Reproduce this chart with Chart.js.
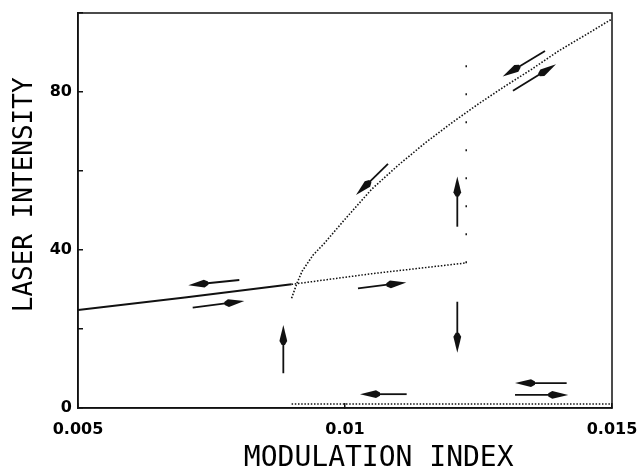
<!DOCTYPE html>
<html>
<head>
<meta charset="utf-8">
<script src="https://cdn.jsdelivr.net/npm/chart.js@4/dist/chart.umd.min.js"></script>
<style>
  body { margin: 0; background: #fff; }
  #wrap { width: 638px; height: 466px; }
</style>
</head>
<body>
<div id="wrap"><canvas id="laserChart" width="638" height="466"></canvas></div>
<script>
// Stable low-intensity branch (solid line)
const lowerX = [0.005, 0.007, 0.009];
const lowerY = [24.8, 28.0, 31.3];

// Unstable continuation of the low branch (dotted)
const middleX = [0.009, 0.0105, 0.01225];
const middleY = [31.3, 34.0, 36.7];

// High-intensity branch (dotted)
const upperX = [0.0090, 0.0091, 0.0092, 0.0094, 0.0096, 0.0100, 0.0105, 0.0110, 0.0115, 0.0120, 0.0125, 0.0130, 0.0135, 0.0140, 0.0145, 0.0150];
const upperY = [27.8, 31.6, 34.7, 38.7, 41.5, 47.8, 55.4, 61.5, 67.1, 72.2, 77.0, 81.5, 85.8, 90.4, 94.4, 98.5];

// Near-zero branch (dotted)
const bottomX = [0.009, 0.015];
const bottomY = [1.0, 1.0];

// Vertical jump marker (sparse dashes)
const jumpX = [0.01227, 0.01227];
const jumpY = [86.8, 33.2];

// Arrows: [tailX, tailY, headX, headY]
const arrows = [
  [0.010805, 61.8, 0.010206, 53.9],
  [0.013745, 90.4, 0.012953, 83.9],
  [0.013146, 80.3, 0.013951, 87.0],
  [0.012103, 45.9, 0.012103, 58.6],
  [0.012103, 26.9, 0.012103, 14.0],
  [0.008021, 32.4, 0.007066, 31.1],
  [0.007148, 25.4, 0.008114, 27.1],
  [0.010243, 30.3, 0.011148, 31.8],
  [0.008845, 8.8, 0.008845, 21.0],
  [0.011155, 3.5, 0.010281, 3.5],
  [0.014151, 6.3, 0.013184, 6.3],
  [0.013184, 3.3, 0.014181, 3.3]
];

// Axis ticks
const xTicks = [0.005, 0.01, 0.015];
const yLabelled = [0, 40, 80];

const toPts = (xs, ys) => xs.map((x, i) => ({ x: x, y: ys[i] }));

// Draws the arrows through the chart scales, plus the top/right frame
const arrowPlugin = {
  id: 'arrows',
  afterDatasetsDraw(chart) {
    const c = chart.ctx;
    const sx = chart.scales.x;
    const sy = chart.scales.y;
    const area = chart.chartArea;

    c.save();
    c.strokeStyle = '#111';
    c.lineWidth = 1.5;
    c.strokeRect(area.left, area.top, area.right - area.left, area.bottom - area.top);

    c.fillStyle = '#111';
    arrows.forEach(a => {
      const x1 = sx.getPixelForValue(a[0]), y1 = sy.getPixelForValue(a[1]);
      const x2 = sx.getPixelForValue(a[2]), y2 = sy.getPixelForValue(a[3]);
      const len = Math.hypot(x2 - x1, y2 - y1);
      const ux = (x2 - x1) / len, uy = (y2 - y1) / len;
      const nx = -uy, ny = ux;
      const L = 20, L1 = 16, w1 = 3.9, w2 = 1.6;

      c.lineWidth = 1.8;
      c.beginPath();
      c.moveTo(x1, y1);
      c.lineTo(x2 - ux * (L - 1), y2 - uy * (L - 1));
      c.stroke();

      c.beginPath();
      c.moveTo(x2, y2);
      c.lineTo(x2 - ux * L1 + nx * w1, y2 - uy * L1 + ny * w1);
      c.lineTo(x2 - ux * L + nx * w2, y2 - uy * L + ny * w2);
      c.lineTo(x2 - ux * L - nx * w2, y2 - uy * L - ny * w2);
      c.lineTo(x2 - ux * L1 - nx * w1, y2 - uy * L1 - ny * w1);
      c.closePath();
      c.fill();
    });
    c.restore();
  }
};

const dotted = [1.5, 1.7];

const ctx = document.getElementById('laserChart').getContext('2d');

const data = {
  datasets: [
    { data: toPts(lowerX, lowerY), borderColor: '#111', borderWidth: 2 },
    { data: toPts(middleX, middleY), borderColor: '#111', borderWidth: 1.5, borderDash: dotted },
    { data: toPts(upperX, upperY), borderColor: '#111', borderWidth: 1.6, borderDash: dotted },
    { data: toPts(bottomX, bottomY), borderColor: '#111', borderWidth: 1.5, borderDash: dotted },
    { data: toPts(jumpX, jumpY), borderColor: '#111', borderWidth: 1.5, borderDash: [2, 26] }
  ]
};

const config = {
  type: 'scatter',
  data: data,
  options: {
    responsive: false,
    animation: false,
    datasets: {
      scatter: { showLine: true, pointRadius: 0, fill: false, tension: 0 }
    },
    layout: {
      padding: { left: 8, right: 26, top: 13, bottom: 0 }
    },
    plugins: {
      legend: { display: false },
      tooltip: { enabled: false }
    },
    scales: {
      x: {
        type: 'linear',
        min: 0.005,
        max: 0.015,
        afterBuildTicks: s => { s.ticks = xTicks.map(v => ({ value: v })); },
        afterFit: s => {
          s.height = 58;
          s.paddingLeft = 0;
          s.paddingRight = 0;
        },
        ticks: {
          padding: 17,
          color: '#000',
          maxRotation: 0,
          autoSkip: false,
          font: { family: 'DejaVu Sans', weight: 'bold', size: 16 },
          callback: v => Number(v.toFixed(4)).toString()
        },
        grid: { drawOnChartArea: false, tickLength: -5, color: '#111', lineWidth: 1.5 },
        border: { color: '#111', width: 1.5 },
        title: {
          display: true,
          text: '    MODULATION INDEX',
          color: '#000',
          padding: 0,
          font: { family: 'DejaVu Sans Mono', size: 28, lineHeight: 0.5 }
        }
      },
      y: {
        min: 0,
        max: 100,
        afterFit: s => {
          s.width = 70;
          s.paddingTop = 0;
          s.paddingBottom = 0;
        },
        ticks: {
          stepSize: 20,
          padding: 11,
          color: '#000',
          font: { family: 'DejaVu Sans', weight: 'bold', size: 16 },
          callback: v => (yLabelled.includes(v) ? v : '')
        },
        grid: { drawOnChartArea: false, tickLength: -5, color: '#111', lineWidth: 1.5 },
        border: { color: '#111', width: 1.5 },
        title: {
          display: true,
          text: '  LASER INTENSITY',
          color: '#000',
          padding: { top: 2, bottom: 0 },
          font: { family: 'DejaVu Sans Mono', size: 26 }
        }
      }
    }
  },
  plugins: [arrowPlugin]
};

const laserChart = new Chart(ctx, config);
</script>
</body>
</html>
